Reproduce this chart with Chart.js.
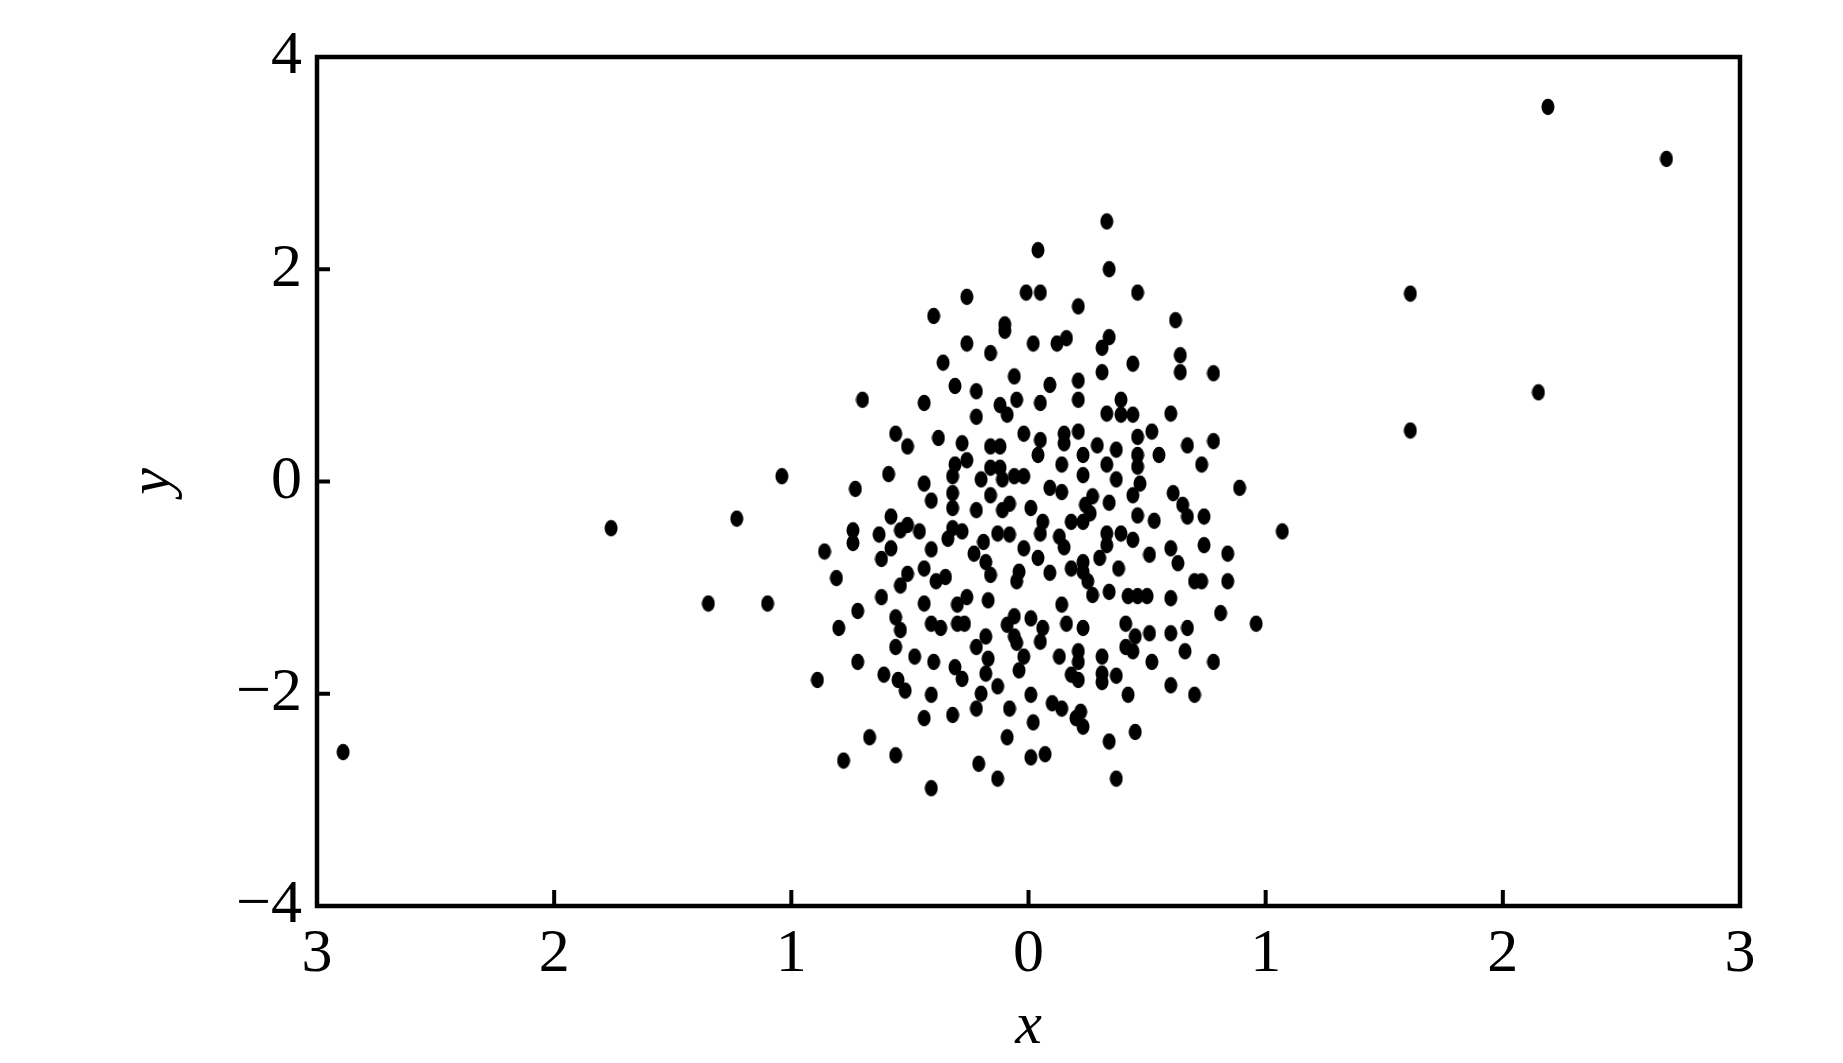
<!DOCTYPE html>
<html>
<head>
<meta charset="utf-8">
<script src="https://cdn.jsdelivr.net/npm/chart.js@4"></script>
<style>
  html, body { margin: 0; padding: 0; background: #fff; }
  #wrap { width: 1843px; height: 1063px; }
</style>
</head>
<body>
<div id="wrap"><canvas id="chart"></canvas></div>
<script>
// x / y values, one entry per dot
const pointsX = [
  0.04, -0.01, 0.05, -0.26, -0.40, -0.10, -0.10, -0.26, -0.16, 0.02, -0.36, -0.06, -0.31, -0.22, -0.70, -0.44, -0.05, 0.05, -0.12, 0.09,
  0.33, 0.34, 0.46, 0.21, 0.62, 0.12, 0.16, 0.34, 0.31, 0.44, 0.64, 0.64, 0.78, 0.31, 0.21, 0.21, 0.39,
  -0.22, -0.09, -0.56, -0.51, -0.38, -0.28, -0.26, -0.31, -0.16, -0.12, -0.02, 0.05, 0.04, -0.59, -0.73, -0.44, -0.41, -0.32, -0.32, -0.32,
  -0.20, -0.16, -0.12, -0.11, -0.06, -0.02, -0.16, -0.22, -0.11, -0.08, 0.01, 0.09, -0.58, -0.54, -0.51, -0.46, -0.74, -0.74, -0.63, -0.86,
  -0.58, -0.62, -0.32, -0.28, -0.34, -0.41, -0.19, -0.23, -0.13, -0.08, -0.02, 0.05, 0.06, 0.04, 0.09, -0.18, -0.16, -0.04, -0.05, -0.81,
  -0.51, -0.54, -0.44, -0.39, -0.35, -0.62, -0.72, -0.44, -0.30, -0.26, -0.17,
  0.33, 0.39, 0.44, 0.60, 0.15, 0.15, 0.21, 0.29, 0.37, 0.46, 0.52, 0.46, 0.46, 0.55, 0.67, 0.78, 0.73, 0.23, 0.14, 0.33, 0.23, 0.37,
  0.14, 0.47, 0.44, 0.61, 0.65, 0.67, 0.89, 0.27, 0.24, 0.26, 0.34, 0.46, 0.53, 0.74, 1.07, 0.18, 0.23, 0.13, 0.15, 0.33, 0.33, 0.39,
  0.44, 0.30, 0.51, 0.60, 0.63, 0.74, 0.84, 0.18, 0.23, 0.23, 0.25, 0.38, 0.70, 0.73, 0.84, 0.27, 0.34, 0.42, 0.46, 0.50, 0.60, 0.14, 0.81,
  -0.56, -0.54, -0.80, -0.41, -0.37, -0.30, -0.27, -0.06, -0.09, 0.01, 0.06, -0.06, -0.05, 0.05, -0.18, -0.22, -0.17, -0.18, -0.02, -0.04,
  -0.13, -0.56, -0.48, -0.40, -0.31, -0.28, -0.72, -0.89, -0.61, -0.55, -0.52, -0.41, -0.20, -0.22, 0.01, -0.08, 0.02, -0.32, -0.44, -0.67,
  -0.09, -0.78, -0.56, -0.21, 0.01, 0.07, -0.13, -0.41,
  0.96, 0.16, 0.23, 0.41, 0.45, 0.41, 0.44, 0.51, 0.60, 0.67, 0.66, 0.78, 0.52, 0.13, 0.21, 0.21, 0.31, 0.18, 0.21, 0.31, 0.31, 0.37,
  0.42, 0.60, 0.70, 0.10, 0.14, 0.22, 0.20, 0.23, 0.45, 0.34, 0.37,
  -2.89, -1.76, -1.23, -1.04, -1.35, -1.10, 1.61, 1.61, 2.19, 2.15, 2.69
];
const pointsY = [
  2.18, 1.78, 1.78, 1.74, 1.56, 1.48, 1.42, 1.30, 1.21, 1.30, 1.12, 0.99, 0.90, 0.85, 0.77, 0.74, 0.77, 0.74, 0.72, 0.91,
  2.45, 2.00, 1.78, 1.65, 1.52, 1.30, 1.35, 1.36, 1.26, 1.11, 1.19, 1.03, 1.02, 1.03, 0.95, 0.77, 0.77,
  0.61, 0.63, 0.45, 0.33, 0.41, 0.36, 0.20, 0.16, 0.33, 0.33, 0.45, 0.39, 0.25, 0.07, -0.07, -0.02, -0.18, 0.05, -0.11, -0.25,
  0.02, 0.13, 0.13, 0.02, 0.05, 0.05, -0.13, -0.27, -0.27, -0.21, -0.25, -0.06, -0.33, -0.46, -0.41, -0.47, -0.46, -0.58, -0.50, -0.66,
  -0.63, -0.73, -0.44, -0.47, -0.54, -0.64, -0.57, -0.68, -0.49, -0.50, -0.63, -0.49, -0.38, -0.72, -0.86, -0.76, -0.88, -0.85, -0.94, -0.91,
  -0.87, -0.98, -0.82, -0.94, -0.90, -1.09, -1.22, -1.15, -1.16, -1.09, -1.12,
  0.64, 0.63, 0.63, 0.64, 0.45, 0.36, 0.47, 0.34, 0.30, 0.42, 0.47, 0.25, 0.14, 0.25, 0.34, 0.38, 0.16, 0.25, 0.16, 0.16, 0.06, 0.02,
  -0.10, -0.02, -0.13, -0.11, -0.22, -0.33, -0.06, -0.14, -0.22, -0.30, -0.20, -0.32, -0.37, -0.33, -0.47, -0.38, -0.38, -0.52, -0.62, -0.49, -0.60, -0.49,
  -0.55, -0.72, -0.69, -0.63, -0.77, -0.60, -0.68, -0.82, -0.76, -0.85, -0.94, -0.82, -0.94, -0.94, -0.94, -1.07, -1.04, -1.08, -1.08, -1.08, -1.10, -1.16, -1.24,
  -1.28, -1.40, -1.38, -1.34, -1.38, -1.34, -1.34, -1.27, -1.35, -1.29, -1.38, -1.46, -1.52, -1.51, -1.46, -1.56, -1.67, -1.81, -1.65, -1.78,
  -1.93, -1.56, -1.65, -1.70, -1.75, -1.86, -1.70, -1.87, -1.82, -1.87, -1.97, -2.01, -2.00, -2.14, -2.01, -2.14, -2.27, -2.20, -2.23, -2.41,
  -2.41, -2.63, -2.58, -2.66, -2.60, -2.57, -2.80, -2.89,
  -1.34, -1.34, -1.38, -1.34, -1.46, -1.56, -1.60, -1.43, -1.43, -1.38, -1.60, -1.70, -1.70, -1.65, -1.60, -1.70, -1.65, -1.82, -1.87, -1.81, -1.89, -1.83,
  -2.01, -1.92, -2.01, -2.09, -2.14, -2.17, -2.23, -2.31, -2.36, -2.45, -2.80,
  -2.55, -0.44, -0.35, 0.05, -1.15, -1.15, 1.77, 0.48, 3.53, 0.84, 3.04
];
const xTicks = [-3, -2, -1, 0, 1, 2, 3];
const yTicks = [-4, -2, 0, 2, 4];

const serif = "'Liberation Serif', 'Times New Roman', serif";

// slightly tall black dot, like the reference markers
const dot = document.createElement('canvas');
dot.width = 14; dot.height = 18;
const dctx = dot.getContext('2d');
dctx.fillStyle = '#000';
dctx.beginPath();
dctx.ellipse(7, 9, 6.5, 8.3, 0, 0, Math.PI * 2);
dctx.fill();

// frame round the plot + inward tick marks
const framePlugin = {
  id: 'frame',
  afterDatasetsDraw(chart) {
    const { ctx, chartArea: a, scales } = chart;
    ctx.save();
    ctx.strokeStyle = '#000';
    ctx.lineWidth = 4.5;
    ctx.strokeRect(a.left, a.top, a.right - a.left, a.bottom - a.top);
    ctx.lineWidth = 4;
    ctx.beginPath();
    xTicks.forEach(v => {
      const px = scales.x.getPixelForValue(v);
      ctx.moveTo(px, a.bottom);
      ctx.lineTo(px, a.bottom - 16);
    });
    yTicks.forEach(v => {
      const py = scales.y.getPixelForValue(v);
      ctx.moveTo(a.left, py);
      ctx.lineTo(a.left + 13, py);
    });
    ctx.stroke();
    ctx.restore();
  }
};

new Chart(document.getElementById('chart'), {
  type: 'scatter',
  data: {
    datasets: [{
      data: pointsX.map((x, i) => ({ x: x, y: pointsY[i] })),
      pointStyle: dot,
      pointRadius: 7,
      backgroundColor: '#000',
      borderColor: '#000'
    }]
  },
  options: {
    responsive: true,
    maintainAspectRatio: false,
    animation: false,
    layout: { padding: { top: 57, right: 103, bottom: 0, left: 117 } },
    plugins: {
      legend: { display: false },
      tooltip: { enabled: false }
    },
    scales: {
      x: {
        type: 'linear',
        min: -3,
        max: 3,
        afterBuildTicks: s => { s.ticks = xTicks.map(v => ({ value: v })); },
        afterFit: s => { s.height = 157; },
        grid: { display: false, drawTicks: false },
        border: { display: false },
        ticks: {
          padding: 12,
          color: '#000',
          font: { family: serif, size: 62 },
          callback: v => String(Math.abs(v))
        },
        title: {
          display: true,
          text: 'x',
          color: '#000',
          padding: { top: 0, bottom: 0 },
          font: { family: serif, size: 60, style: 'italic' }
        }
      },
      y: {
        type: 'linear',
        min: -4,
        max: 4,
        afterBuildTicks: s => { s.ticks = yTicks.map(v => ({ value: v })); },
        afterFit: s => { s.width = 200; },
        grid: { display: false, drawTicks: false },
        border: { display: false },
        ticks: {
          padding: 15,
          color: '#000',
          font: { family: serif, size: 62 },
          callback: v => (v < 0 ? '\u2212' + Math.abs(v) : String(v))
        },
        title: {
          display: true,
          text: 'y',
          color: '#000',
          padding: { top: 0, bottom: 0 },
          font: { family: serif, size: 60, style: 'italic' }
        }
      }
    }
  },
  plugins: [framePlugin]
});
</script>
</body>
</html>
